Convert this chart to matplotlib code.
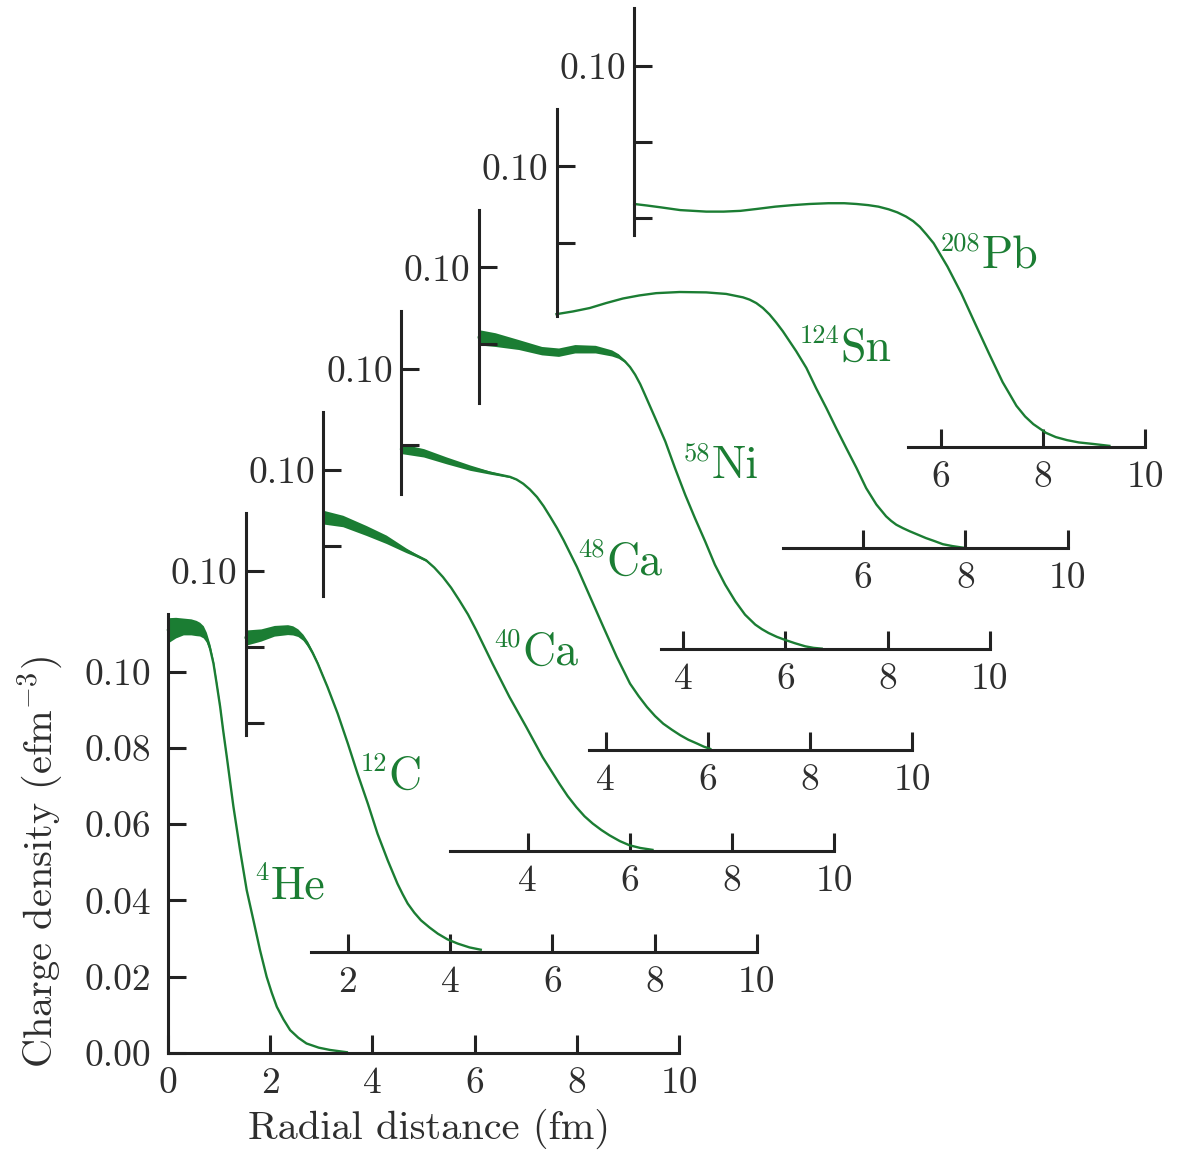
import matplotlib
matplotlib.use('Agg')
import numpy as np
import matplotlib.pyplot as plt
from matplotlib.transforms import offset_copy

plt.rcParams['font.family'] = 'cmr10'
plt.rcParams['mathtext.fontset'] = 'cm'
plt.rcParams['axes.unicode_minus'] = False

green = '#1b7d33'
ink = '#222222'

# charge density curves, r in fm, rho in e/fm^3, err = half width of the band
he_r = [0.0, 0.15, 0.3, 0.45, 0.55, 0.62, 0.69, 0.75, 0.82, 0.89, 0.95, 1.02, 1.08, 1.15, 1.28, 1.41, 1.54,
        1.67, 1.80, 1.93, 2.03, 2.13, 2.26, 2.39, 2.55, 2.71, 2.95, 3.17, 3.50]
he_rho = [0.1108, 0.1115, 0.1118, 0.1117, 0.1114, 0.1111, 0.1104, 0.1090, 0.1062, 0.1021, 0.0970, 0.0908,
          0.0845, 0.0777, 0.0646, 0.0532, 0.0427, 0.0349, 0.0270, 0.0200, 0.0158, 0.0121, 0.0088, 0.0060,
          0.0040, 0.0025, 0.0014, 0.0008, 0.0002]
he_err = [0.0033, 0.0027, 0.0022, 0.0021, 0.0020, 0.0018, 0.0016, 0.0013, 0.0010, 0.0007, 0.0005, 0.0003,
          0.0002, 0.0001, 0, 0, 0, 0, 0, 0, 0, 0, 0, 0, 0, 0, 0, 0, 0]

c_r = [0.0, 0.30, 0.56, 0.82, 0.92, 1.02, 1.12, 1.21, 1.31, 1.41, 1.50, 1.60, 1.80, 2.00, 2.19, 2.39, 2.58,
       2.78, 2.97, 3.07, 3.17, 3.30, 3.43, 3.60, 3.76, 3.95, 4.15, 4.38, 4.60]
c_rho = [0.0824, 0.0831, 0.0842, 0.0845, 0.0843, 0.0837, 0.0825, 0.0808, 0.0784, 0.0756, 0.0727, 0.0695,
         0.0625, 0.0546, 0.0467, 0.0389, 0.0310, 0.0240, 0.0179, 0.0152, 0.0127, 0.0103, 0.0083, 0.0064,
         0.0048, 0.0033, 0.0022, 0.0012, 0.0006]
c_err = [0.0020, 0.0016, 0.0014, 0.0013, 0.0012, 0.0010, 0.0008, 0.0007, 0.0005, 0.0004, 0.0003, 0.0002,
         0, 0, 0, 0, 0, 0, 0, 0, 0, 0, 0, 0, 0, 0, 0, 0, 0]

ca40_r = [0.0, 0.38, 0.84, 1.23, 1.62, 1.80, 2.01, 2.17, 2.34, 2.50, 2.66, 2.83, 2.99, 3.31, 3.64, 3.97,
          4.29, 4.62, 4.78, 4.95, 5.11, 5.27, 5.44, 5.60, 5.80, 5.99, 6.20, 6.44]
ca40_rho = [0.0875, 0.0865, 0.0840, 0.0817, 0.0788, 0.0776, 0.0762, 0.0743, 0.0718, 0.0690, 0.0657, 0.0620,
            0.0579, 0.0491, 0.0404, 0.0325, 0.0246, 0.0176, 0.0144, 0.0115, 0.0091, 0.0072, 0.0055, 0.0041,
            0.0026, 0.0015, 0.0008, 0.0003]
ca40_err = [0.0018, 0.0015, 0.0013, 0.0011, 0.0006, 0.0004, 0.0003, 0.0001, 0, 0, 0, 0, 0, 0, 0, 0,
            0, 0, 0, 0, 0, 0, 0, 0, 0, 0, 0, 0]

ca48_r = [0.0, 0.44, 0.89, 1.35, 1.74, 2.13, 2.26, 2.39, 2.52, 2.66, 2.79, 2.92, 3.05, 3.18, 3.44, 3.70,
          3.96, 4.22, 4.48, 4.65, 4.81, 4.97, 5.13, 5.30, 5.46, 5.62, 5.79, 5.92, 6.05]
ca48_rho = [0.0790, 0.0779, 0.0759, 0.0740, 0.0727, 0.0716, 0.0709, 0.0698, 0.0683, 0.0663, 0.0639, 0.0611,
            0.0582, 0.0550, 0.0480, 0.0401, 0.0322, 0.0244, 0.0174, 0.0141, 0.0113, 0.0089, 0.0069, 0.0053,
            0.0039, 0.0027, 0.0017, 0.0009, 0.0003]
ca48_err = [0.0013, 0.0011, 0.0009, 0.0007, 0.0004, 0.0002, 0.0001, 0, 0, 0, 0, 0, 0, 0, 0, 0,
            0, 0, 0, 0, 0, 0, 0, 0, 0, 0, 0, 0, 0]

ni_r = [0.0, 0.32, 0.78, 1.23, 1.56, 1.88, 2.28, 2.60, 2.73, 2.86, 2.96, 3.06, 3.16, 3.25, 3.45, 3.65,
        3.84, 4.04, 4.23, 4.43, 4.62, 4.82, 5.02, 5.21, 5.41, 5.54, 5.67, 5.83, 5.99, 6.19, 6.39, 6.55, 6.71]
ni_rho = [0.0817, 0.0811, 0.0798, 0.0782, 0.0778, 0.0787, 0.0786, 0.0776, 0.0768, 0.0754, 0.0739, 0.0719,
          0.0694, 0.0667, 0.0606, 0.0544, 0.0474, 0.0404, 0.0343, 0.0282, 0.0221, 0.0169, 0.0125, 0.0090,
          0.0064, 0.0052, 0.0042, 0.0032, 0.0024, 0.0015, 0.0007, 0.0003, 0.0001]
ni_err = [0.0020, 0.0018, 0.0013, 0.0011, 0.0011, 0.0011, 0.0010, 0.0008, 0.0006, 0.0003, 0.0001, 0, 0, 0,
          0, 0, 0, 0, 0, 0, 0, 0, 0, 0, 0, 0, 0, 0, 0, 0, 0, 0, 0]

sn_r = [0.0, 0.32, 0.65, 0.97, 1.30, 1.62, 1.95, 2.41, 2.93, 3.32, 3.65, 3.78, 3.91, 4.04, 4.17, 4.30,
        4.43, 4.69, 4.89, 5.08, 5.28, 5.47, 5.67, 5.87, 6.06, 6.26, 6.45, 6.55, 6.65, 6.78, 6.91, 7.07,
        7.23, 7.40, 7.56, 7.75, 7.95]
sn_rho = [0.0613, 0.0620, 0.0629, 0.0642, 0.0654, 0.0662, 0.0668, 0.0671, 0.0670, 0.0666, 0.0657, 0.0651,
          0.0642, 0.0629, 0.0612, 0.0591, 0.0568, 0.0516, 0.0472, 0.0419, 0.0367, 0.0315, 0.0262, 0.0210,
          0.0157, 0.0114, 0.0083, 0.0071, 0.0061, 0.0052, 0.0044, 0.0035, 0.0026, 0.0018, 0.0010, 0.0005,
          0.0001]

pb_r = [0.0, 0.25, 0.53, 0.90, 1.41, 1.75, 2.08, 2.40, 2.76, 3.10, 3.43, 3.80, 4.11, 4.35, 4.58, 4.78,
        4.98, 5.15, 5.32, 5.46, 5.59, 5.72, 5.86, 6.13, 6.40, 6.67, 6.94, 7.21, 7.35, 7.48, 7.65, 7.81,
        8.06, 8.25, 8.47, 8.70, 8.98, 9.30]
pb_rho = [0.0637, 0.0633, 0.0628, 0.0621, 0.0617, 0.0617, 0.0619, 0.0624, 0.0630, 0.0634, 0.0637, 0.0639,
          0.0639, 0.0637, 0.0634, 0.0630, 0.0623, 0.0615, 0.0604, 0.0592, 0.0577, 0.0557, 0.0534, 0.0473,
          0.0403, 0.0324, 0.0246, 0.0170, 0.0138, 0.0108, 0.0080, 0.0060, 0.0037, 0.0026, 0.0018, 0.0012,
          0.0008, 0.0003]

nuclei = [
    ('4', 'He', he_r, he_rho, he_err),
    ('12', 'C', c_r, c_rho, c_err),
    ('40', 'Ca', ca40_r, ca40_rho, ca40_err),
    ('48', 'Ca', ca48_r, ca48_rho, ca48_err),
    ('58', 'Ni', ni_r, ni_rho, ni_err),
    ('124', 'Sn', sn_r, sn_rho, None),
    ('208', 'Pb', pb_r, pb_rho, None),
]

# where each stacked panel's axes start, and which ticks it carries
x_start = [0.0, 1.27, 2.47, 3.68, 3.56, 4.44, 5.36]
y_start = [0.0, 0.0568, 0.0668, 0.067, 0.0645, 0.0608, 0.0556]
x_ticks = [[0, 2, 4, 6, 8, 10], [2, 4, 6, 8, 10], [4, 6, 8, 10], [4, 6, 8, 10],
           [4, 6, 8, 10], [6, 8, 10], [6, 8, 10]]
y_ticks = [[0.0, 0.02, 0.04, 0.06, 0.08, 0.10], [0.06, 0.08, 0.10], [0.08, 0.10],
           [0.08, 0.10], [0.08, 0.10], [0.08, 0.10], [0.06, 0.08, 0.10]]
label_at = [(2.00, 0.0406), (2.80, 0.0427), (3.89, 0.0488), (4.01, 0.0459),
            (4.56, 0.0448), (5.56, 0.0490), (6.79, 0.0469)]

W, H = 1181, 1152
fig = plt.figure(figsize=(W / 100, H / 100), dpi=100)
px_fm = 51.1
px_rho = 3815.0
top = 0.115

for i, (mass, sym, r, rho, err) in enumerate(nuclei):
    x0 = 168 + 77.7 * i
    y0 = 1053 - 101 * i
    ax = fig.add_axes([x0 / W, (H - y0) / H, 10 * px_fm / W, top * px_rho / H])
    ax.set_xlim(0, 10)
    ax.set_ylim(0, top)
    ax.patch.set_alpha(0)
    for s in ('top', 'right'):
        ax.spines[s].set_visible(False)
    for s in ('left', 'bottom'):
        ax.spines[s].set_linewidth(2.2)
        ax.spines[s].set_color(ink)
    ax.spines['left'].set_bounds(y_start[i], top)
    ax.spines['bottom'].set_bounds(x_start[i], 10)

    ax.set_xticks(x_ticks[i])
    ax.set_xticklabels([str(t) for t in x_ticks[i]])
    ax.set_yticks(y_ticks[i])
    if i == 0:
        ax.set_yticklabels(['%.2f' % t for t in y_ticks[i]])
    else:
        ax.set_yticklabels(['0.10' if abs(t - 0.10) < 1e-9 else '' for t in y_ticks[i]])
    ax.tick_params(direction='in', length=13, width=2.2, color=ink,
                   labelcolor='#2e2e2e', labelsize=27)
    ax.tick_params(axis='x', pad=10)
    ax.tick_params(axis='y', pad=12 if i == 0 else 6)

    r = np.array(r)
    rho = np.array(rho)
    if err is not None:
        err = np.array(err)
        ax.fill_between(r, rho - err, rho + err, color=green, lw=0, clip_on=False)
    ax.plot(r, rho, color=green, lw=1.7, clip_on=False, solid_joinstyle='round')

    lx, ly = label_at[i]
    sup = offset_copy(ax.transData, fig=fig, x=-1, y=13, units='points')
    ax.text(lx, ly, mass, transform=sup, ha='right', va='baseline', fontsize=19, color=green)
    ax.text(lx, ly, sym, ha='left', va='baseline', fontsize=33, color=green)

    if i == 0:
        ax.set_xlabel('Radial distance (fm)', fontsize=29, color='#2e2e2e', labelpad=6, x=0.511)
        ax.set_ylabel('Charge density (efm$^{-3}$)', fontsize=29, color='#2e2e2e', labelpad=14,
                      y=0.435)

fig.savefig('out.png', dpi=100)
